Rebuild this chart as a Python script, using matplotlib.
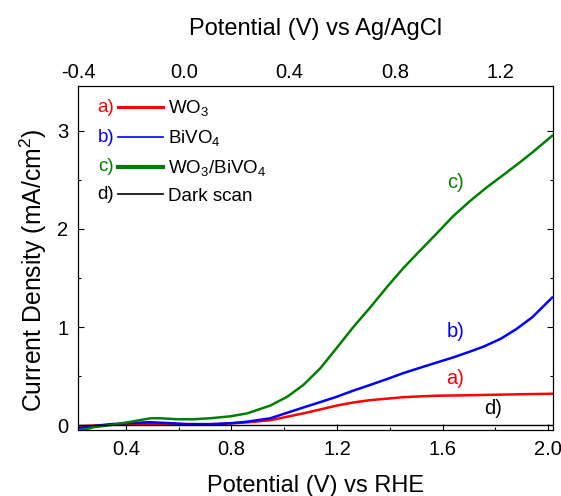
import matplotlib
matplotlib.use("Agg")
import matplotlib.pyplot as plt
from matplotlib.lines import Line2D
from matplotlib.ticker import MultipleLocator

plt.rcParams['font.family'] = ['Liberation Sans', 'DejaVu Sans']
plt.rcParams['mathtext.fontset'] = 'custom'
plt.rcParams['mathtext.rm'] = 'Liberation Sans'

# potential (V vs RHE) and current density (mA/cm2)
x_wo3 = [0.222, 0.4, 0.6, 0.75, 0.81, 0.87, 0.948, 1.01, 1.073, 1.137, 1.2, 1.26, 1.326,
         1.39, 1.451, 1.515, 1.58, 1.64, 1.704, 1.8, 1.9, 2.015]
y_wo3 = [-0.01, 0.01, 0.01, 0.01, 0.02, 0.03, 0.05, 0.085, 0.12, 0.16, 0.20, 0.23, 0.255,
         0.27, 0.285, 0.293, 0.30, 0.302, 0.305, 0.31, 0.315, 0.32]

x_bivo4 = [0.222, 0.28, 0.343, 0.41, 0.49, 0.57, 0.634, 0.72, 0.8, 0.86, 0.948, 1.01, 1.073,
           1.137, 1.2, 1.26, 1.326, 1.39, 1.451, 1.515, 1.58, 1.64, 1.704, 1.755, 1.82,
           1.88, 1.94, 2.015]
y_bivo4 = [-0.03, -0.01, 0.01, 0.02, 0.03, 0.02, 0.01, 0.01, 0.02, 0.035, 0.07, 0.125, 0.18,
           0.235, 0.29, 0.35, 0.41, 0.47, 0.53, 0.585, 0.64, 0.69, 0.75, 0.80, 0.88,
           0.98, 1.10, 1.30]

x_het = [0.222, 0.28, 0.343, 0.41, 0.494, 0.53, 0.596, 0.657, 0.72, 0.797, 0.86, 0.948, 1.012,
         1.073, 1.137, 1.2, 1.262, 1.326, 1.39, 1.451, 1.515, 1.58, 1.64, 1.704, 1.77,
         1.82, 1.893, 1.94, 2.015]
y_het = [-0.06, -0.02, 0.0, 0.03, 0.07, 0.07, 0.06, 0.06, 0.07, 0.09, 0.12, 0.20, 0.29,
         0.41, 0.58, 0.79, 1.0, 1.2, 1.41, 1.60, 1.78, 1.96, 2.13, 2.285, 2.43,
         2.53, 2.68, 2.78, 2.95]

x_dark = [0.222, 0.6, 1.0, 1.4, 1.8, 2.015]
y_dark = [0.0, 0.0, 0.0, 0.0, 0.0, 0.0]

names = ["WO$_3$", "BiVO$_4$", "WO$_3$/BiVO$_4$", "Dark scan"]
letters = ["a)", "b)", "c)", "d)"]
colors = ["#ff0000", "#0000ff", "#008000", "#000000"]

agcl_offset = 0.62  # V, RHE - Ag/AgCl
top_ticks = [-0.4, 0.0, 0.4, 0.8, 1.2]

fig = plt.figure(figsize=(5.61, 4.96), dpi=100)
ax = fig.add_axes([0.139, 0.133, 0.847, 0.694])

ax.plot(x_wo3, y_wo3, color=colors[0], lw=1.8)
ax.plot(x_bivo4, y_bivo4, color=colors[1], lw=1.8)
ax.plot(x_het, y_het, color=colors[2], lw=1.8)
ax.plot(x_dark, y_dark, color=colors[3], lw=1.0)

ax.set_xlim(0.219, 2.019)
ax.set_ylim(-0.05, 3.46)
ax.xaxis.set_major_locator(MultipleLocator(0.4))
ax.xaxis.set_minor_locator(MultipleLocator(0.2))
ax.yaxis.set_major_locator(MultipleLocator(1))
ax.yaxis.set_minor_locator(MultipleLocator(0.5))
ax.xaxis.set_major_formatter(plt.FormatStrFormatter('%.1f'))
ax.tick_params(which='both', direction='in', top=True, right=True, labelsize=14.5, width=0.8)
ax.tick_params(which='major', length=4.5, pad=7)
ax.tick_params(which='minor', length=2.5)
for s in ax.spines.values():
  s.set_linewidth(0.9)

ax.set_xlabel("Potential (V) vs RHE", fontsize=17, labelpad=12)
ax.set_ylabel("Current Density (mA/cm$^2$)", fontsize=17.8)
ax.yaxis.set_label_coords(-0.062, 0.465)

# top axis: Ag/AgCl scale
top = ax.twiny()
top.set_xlim(ax.get_xlim()[0] - agcl_offset, ax.get_xlim()[1] - agcl_offset)
top.set_xticks(top_ticks)
top.xaxis.set_major_formatter(plt.FormatStrFormatter('%.1f'))
top.tick_params(length=0, labelsize=14.5, pad=3)
top.set_xlabel("Potential (V) vs Ag/AgCl", fontsize=17, labelpad=20)
for s in top.spines.values():
  s.set_visible(False)

# curve labels
ax.text(1.648, 2.47, "c)", color=colors[2], fontsize=14.5, ha='center', va='center')
ax.text(1.648, 0.95, "b)", color=colors[1], fontsize=14.5, ha='center', va='center')
ax.text(1.648, 0.48, "a)", color=colors[0], fontsize=14.5, ha='center', va='center')
ax.text(1.79, 0.17, "d)", color=colors[3], fontsize=14.5, ha='center', va='center')

handles = [Line2D([], [], color=colors[0], lw=2.2),
           Line2D([], [], color=colors[1], lw=1.2),
           Line2D([], [], color=colors[2], lw=3.0),
           Line2D([], [], color=colors[3], lw=1.2)]
leg = ax.legend(handles, names, loc='upper left', bbox_to_anchor=(0.085, 0.962), frameon=False,
                fontsize=13.5, handlelength=2.4, handletextpad=0.25, labelspacing=0.5,
                borderaxespad=0.0, borderpad=0.0)

fig.canvas.draw()
renderer = fig.canvas.get_renderer()
for h, lab, c in zip(leg.legend_handles, letters, colors):
  hb = h.get_window_extent(renderer)
  fig.text(hb.x0 - 4, (hb.y0 + hb.y1) / 2, lab, color=c, fontsize=13.5,
           ha='right', va='center', transform=None)

fig.savefig("out.png", dpi=100)
